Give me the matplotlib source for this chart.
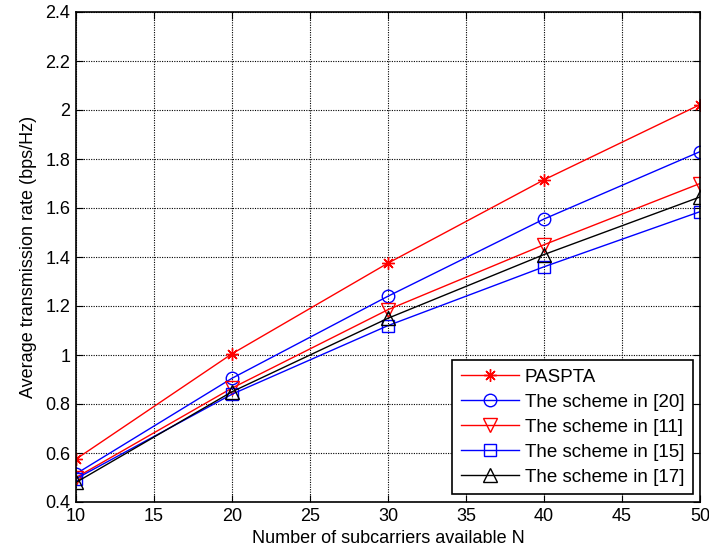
import matplotlib
matplotlib.use("Agg")
import matplotlib.pyplot as plt

plt.rcParams['font.family'] = ['Liberation Sans', 'DejaVu Sans']

N = [10, 20, 30, 40, 50]
paspta = [0.575, 1.005, 1.375, 1.715, 2.022]
s20 = [0.515, 0.905, 1.24, 1.555, 1.83]
s11 = [0.50, 0.865, 1.185, 1.45, 1.70]
s15 = [0.495, 0.84, 1.12, 1.36, 1.585]
s17 = [0.48, 0.85, 1.15, 1.41, 1.645]
labels = ['PASPTA', 'The scheme in [20]', 'The scheme in [11]', 'The scheme in [15]', 'The scheme in [17]']
xticks = [10, 15, 20, 25, 30, 35, 40, 45, 50]
yticks = [0.4, 0.6, 0.8, 1, 1.2, 1.4, 1.6, 1.8, 2, 2.2, 2.4]
ytick_labels = ['0.4', '0.6', '0.8', '1', '1.2', '1.4', '1.6', '1.8', '2', '2.2', '2.4']

fig = plt.figure(figsize=(7.09, 5.6), dpi=100)
W, H = 709, 560
ax = fig.add_axes([76 / W, 1 - 502 / H, 624 / W, 490 / H])

asterisk = (8, 2, 0)
ax.plot(N, paspta, color='#ff0000', marker=asterisk, ms=9, mew=1, lw=1, label=labels[0])
ax.plot(N, s20, color='#0000ff', marker='o', ms=9, mfc='none', mew=1, lw=1, label=labels[1])
ax.plot(N, s11, color='#ff0000', marker='v', ms=9.5, mfc='none', mew=1, lw=1, label=labels[2])
ax.plot(N, s15, color='#0000ff', marker='s', ms=8.5, mfc='none', mew=1, lw=1, label=labels[3])
ax.plot(N, s17, color='#000000', marker='^', ms=9.5, mfc='none', mew=1, lw=1, label=labels[4])

ax.set_xlim(10, 50)
ax.set_ylim(0.4, 2.4)
ax.set_xticks(xticks)
ax.set_yticks(yticks)
ax.set_yticklabels(ytick_labels)
ax.tick_params(direction='in', top=True, right=True, labelsize=13, length=5, pad=4)
ax.grid(True, color='black', linestyle=(0, (1, 1.2)), linewidth=0.8)
for sp in ax.spines.values():
    sp.set_linewidth(1.2)
ax.set_xlabel('Number of subcarriers available N', fontsize=13, labelpad=4)
ax.set_ylabel('Average transmission rate (bps/Hz)', fontsize=13, labelpad=6)

leg = ax.legend(loc='lower right', fontsize=13.5, fancybox=False, framealpha=1,
                edgecolor='black', borderpad=0.45, handlelength=3.1, handletextpad=0.32,
                labelspacing=0.42, borderaxespad=0,
                bbox_to_anchor=((693 - 76) / 624, (502 - 494) / 490))
leg.get_frame().set_linewidth(1.2)

fig.savefig('out.png', dpi=100)
